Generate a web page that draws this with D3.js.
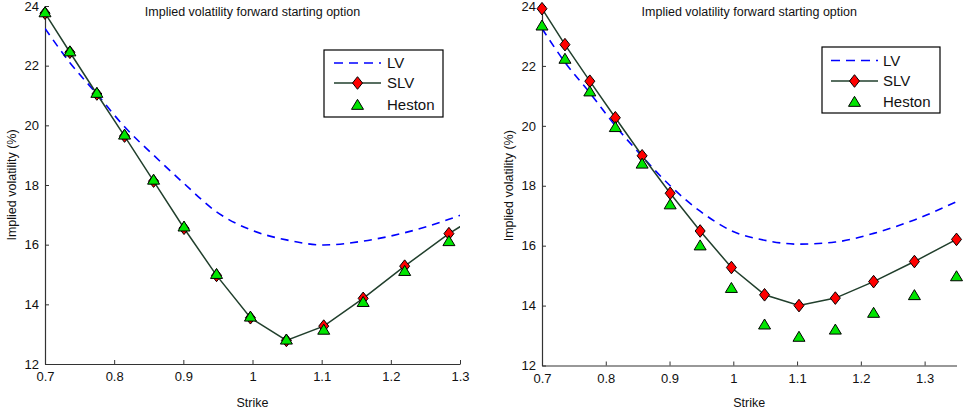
<!DOCTYPE html>
<html>
<head>
<meta charset="utf-8">
<script src="https://cdn.jsdelivr.net/npm/d3@7"></script>
<style>
  body { margin: 0; background: #fff; }
  svg { display: block; font-family: "Liberation Sans", Arial, sans-serif; }
</style>
</head>
<body>
<div id="chart"></div>
<script>
// Strikes shared by both panels
var strikes = [0.70, 0.736, 0.775, 0.815, 0.857, 0.901, 0.948, 0.997, 1.049, 1.103, 1.160, 1.220, 1.284, 1.350];

// Left panel series (implied vol, %)
var lvLeft = [23.25, 22.10, 21.05, 19.95, 19.00, 18.05, 17.10, 16.50, 16.16, 15.99, 16.12, 16.40, 16.85, 17.45];
var slvLeft = [23.76, 22.45, 21.05, 19.64, 18.13, 16.55, 14.97, 13.55, 12.79, 13.27, 14.20, 15.28, 16.37, 17.32];
var hestonLeft = [23.75, 22.44, 21.05, 19.65, 18.14, 16.57, 14.98, 13.55, 12.78, 13.11, 14.04, 15.08, 16.08, 17.05];

// Right panel series
var lvRight = [23.25, 22.12, 21.10, 20.00, 18.98, 18.00, 17.15, 16.50, 16.18, 16.05, 16.12, 16.41, 16.86, 17.47];
var slvRight = [23.91, 22.71, 21.49, 20.27, 19.00, 17.75, 16.49, 15.27, 14.36, 14.00, 14.25, 14.80, 15.47, 16.21];
var hestonRight = [23.31, 22.20, 21.11, 19.92, 18.70, 17.34, 15.97, 14.55, 13.33, 12.92, 13.16, 13.72, 14.31, 14.94];

var xTicks = [0.7, 0.8, 0.9, 1.0, 1.1, 1.2, 1.3];
var yTicks = [12, 14, 16, 18, 20, 22, 24];
var seriesNames = ["LV", "SLV", "Heston"];

var titleText = "Implied volatility forward starting option";
var xLabelText = "Strike";
var yLabelText = "Implied volatility (%)";

var svgWidth = 963;
var svgHeight = 413;

var svg = d3.select("#chart")
  .append("svg")
  .attr("width", svgWidth)
  .attr("height", svgHeight);

var lvColor = "#0000ff";
var slvColor = "#213f2c";
var hestonColor = "#00e600";

// marker shapes
var triH = 10, triW = 12;
var trianglePath = "M0," + (-2 * triH / 3) + "L" + (triW / 2) + "," + (triH / 3) + "L" + (-triW / 2) + "," + (triH / 3) + "Z";
var diamondPath = "M0,-6.3L5,0L0,6.3L-5,0Z";

var panels = [
  { id: "left", left: 45, right: 460, top: 6, bottom: 364, xMax: 1.3,
    lv: lvLeft, slv: slvLeft, heston: hestonLeft,
    legend: { x: 324, y: 50, w: 119, h: 67, rows: [63, 83, 105], lineX: [334, 381], textX: 387 } },
  { id: "right", left: 542, right: 956.5, top: 6, bottom: 365.5, xMax: 1.35,
    lv: lvRight, slv: slvRight, heston: hestonRight,
    legend: { x: 822, y: 47, w: 118, h: 66, rows: [60.5, 81, 102], lineX: [831, 878], textX: 883 } }
];

panels.forEach(function (p) {
  var xScale = d3.scaleLinear().domain([0.7, p.xMax]).range([p.left, p.right]);
  var yScale = d3.scaleLinear().domain([12, 24]).range([p.bottom, p.top]);

  var g = svg.append("g").attr("class", "panel-" + p.id);

  // clip for the lines so they stop at the axes edge
  svg.append("clipPath")
    .attr("id", "clip-" + p.id)
    .append("rect")
    .attr("x", p.left)
    .attr("y", p.top - 10)
    .attr("width", p.right - p.left)
    .attr("height", p.bottom - p.top + 10);

  var rows = strikes.map(function (k, i) {
    return { k: k, lv: p.lv[i], slv: p.slv[i], heston: p.heston[i] };
  });
  var visible = rows.filter(function (d) { return d.k <= p.xMax + 1e-9; });

  // axes (ticks point inward)
  var bottomAxis = d3.axisBottom(xScale)
    .tickValues(xTicks)
    .tickFormat(d3.format(""))
    .tickSizeInner(-4)
    .tickSizeOuter(0)
    .tickPadding(8);
  var leftAxis = d3.axisLeft(yScale)
    .tickValues(yTicks)
    .tickSizeInner(-4)
    .tickSizeOuter(0)
    .tickPadding(6);

  var xAxisG = g.append("g")
    .attr("transform", "translate(0," + p.bottom + ")")
    .call(bottomAxis);
  var yAxisG = g.append("g")
    .attr("transform", "translate(" + p.left + ",0)")
    .call(leftAxis);

  [xAxisG, yAxisG].forEach(function (a) {
    a.select(".domain").attr("stroke", "#333").attr("stroke-width", 1.2);
    a.selectAll(".tick line").attr("stroke", "#333").attr("stroke-width", 1);
    a.selectAll(".tick text").attr("fill", "#111").style("font-size", "13px")
      .style("font-family", "'Liberation Sans', Arial, sans-serif");
  });

  // LV dashed curve
  var lvLine = d3.line()
    .x(function (d) { return xScale(d.k); })
    .y(function (d) { return yScale(d.lv); })
    .curve(d3.curveMonotoneX);

  g.append("path")
    .datum(rows)
    .attr("clip-path", "url(#clip-" + p.id + ")")
    .attr("d", lvLine)
    .attr("fill", "none")
    .attr("stroke", lvColor)
    .attr("stroke-width", 1.6)
    .attr("stroke-dasharray", "8,6");

  // SLV solid line
  var slvLine = d3.line()
    .x(function (d) { return xScale(d.k); })
    .y(function (d) { return yScale(d.slv); });

  g.append("path")
    .datum(rows)
    .attr("clip-path", "url(#clip-" + p.id + ")")
    .attr("d", slvLine)
    .attr("fill", "none")
    .attr("stroke", slvColor)
    .attr("stroke-width", 1.5);

  // SLV diamonds
  g.selectAll("path.slv")
    .data(visible)
    .enter()
    .append("path")
    .attr("class", "slv")
    .attr("d", diamondPath)
    .attr("transform", function (d) { return "translate(" + xScale(d.k) + "," + yScale(d.slv) + ")"; })
    .attr("fill", "#ff0000")
    .attr("stroke", "#000")
    .attr("stroke-width", 1);

  // Heston triangles
  g.selectAll("path.heston")
    .data(visible)
    .enter()
    .append("path")
    .attr("class", "heston")
    .attr("d", trianglePath)
    .attr("transform", function (d) { return "translate(" + xScale(d.k) + "," + yScale(d.heston) + ")"; })
    .attr("fill", hestonColor)
    .attr("stroke", "#000")
    .attr("stroke-width", 1);

  var cx = (p.left + p.right) / 2;

  // title and axis labels
  g.append("text")
    .attr("x", cx)
    .attr("y", 15.5)
    .attr("text-anchor", "middle")
    .style("font-size", "12.5px")
    .attr("fill", "#111")
    .text(titleText);

  g.append("text")
    .attr("x", cx)
    .attr("y", 406.5)
    .attr("text-anchor", "middle")
    .style("font-size", "12.5px")
    .attr("fill", "#111")
    .text(xLabelText);

  g.append("text")
    .attr("transform", "translate(" + (p.left - 29) + "," + ((p.top + p.bottom) / 2) + ") rotate(-90)")
    .attr("text-anchor", "middle")
    .style("font-size", "12.5px")
    .attr("fill", "#111")
    .text(yLabelText);

  // legend
  var L = p.legend;
  var lg = g.append("g").attr("class", "legend");
  lg.append("rect")
    .attr("x", L.x)
    .attr("y", L.y)
    .attr("width", L.w)
    .attr("height", L.h)
    .attr("fill", "#fff")
    .attr("stroke", "#000")
    .attr("stroke-width", 1.2);

  var midX = (L.lineX[0] + L.lineX[1]) / 2;

  lg.append("line")
    .attr("x1", L.lineX[0]).attr("x2", L.lineX[1])
    .attr("y1", L.rows[0]).attr("y2", L.rows[0])
    .attr("stroke", lvColor)
    .attr("stroke-width", 1.6)
    .attr("stroke-dasharray", "9,6");

  lg.append("line")
    .attr("x1", L.lineX[0]).attr("x2", L.lineX[1])
    .attr("y1", L.rows[1]).attr("y2", L.rows[1])
    .attr("stroke", slvColor)
    .attr("stroke-width", 1.5);
  lg.append("path")
    .attr("d", diamondPath)
    .attr("transform", "translate(" + midX + "," + L.rows[1] + ")")
    .attr("fill", "#ff0000")
    .attr("stroke", "#000");

  lg.append("path")
    .attr("d", trianglePath)
    .attr("transform", "translate(" + midX + "," + (L.rows[2] + 1) + ")")
    .attr("fill", hestonColor)
    .attr("stroke", "#000");

  lg.selectAll("text.entry")
    .data(seriesNames)
    .enter()
    .append("text")
    .attr("class", "entry")
    .attr("x", L.textX)
    .attr("y", function (d, i) { return L.rows[i]; })
    .attr("dy", "0.36em")
    .style("font-size", "15px")
    .attr("fill", "#111")
    .text(function (d) { return d; });
});
</script>
</body>
</html>
